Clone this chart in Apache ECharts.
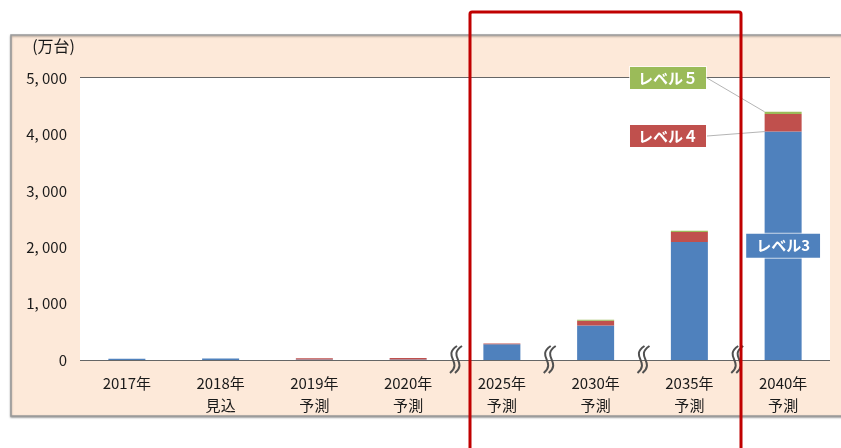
<!DOCTYPE html>
<html>
<head>
<meta charset="utf-8">
<script src="https://cdn.jsdelivr.net/npm/echarts@6/dist/echarts.min.js"></script>
<style>
html,body{margin:0;padding:0;background:#fff;}
#main{width:841px;height:448px;}
</style>
</head>
<body>
<div id="main"></div>
<script>
const categories = ['2017年', '2018年\n見込', '2019年\n予測', '2020年\n予測', '2025年\n予測', '2030年\n予測', '2035年\n予測', '2040年\n予測'];
const level3 = [20, 25, 10, 10, 280, 610, 2090, 4050];
const level4 = [0, 0, 20, 25, 12, 85, 180, 310];
const level5 = [0, 0, 0, 0, 2, 18, 22, 40];
const seriesNames = ['レベル3', 'レベル４', 'レベル５'];
const yMin = 0, yMax = 5000, yStep = 1000;
const unitLabel = '(万台)';

const FONT = '"Noto Sans CJK JP", "Noto Sans", sans-serif';
const C3 = '#4f81bd', C4 = '#c0504d', C5 = '#9bbb59';

function withLastLabel(arr, labelOpt) {
  return arr.map((v, i) => i === arr.length - 1 ? { value: v, label: labelOpt } : v);
}
const boxLabel = (bg, text) => ({
  show: true, formatter: text, color: '#fff', fontWeight: 'bold', fontSize: 15,
  fontFamily: FONT, backgroundColor: bg, padding: [4, 8, 3, 8],
  borderColor: 'rgba(255,255,255,0.7)', borderWidth: 1
});

const chart = echarts.init(document.getElementById('main'), null, { renderer: 'canvas' });
const option = {
  animation: false,
  backgroundColor: '#fff',
  grid: { left: 80, right: 11, top: 78, bottom: 88, show: true, backgroundColor: '#fff', borderWidth: 0, z: 1 },
  xAxis: {
    type: 'category', data: categories,
    axisLine: { show: false }, axisTick: { show: false },
    axisLabel: { color: '#1a1a1a', fontSize: 15, fontFamily: FONT, lineHeight: 22, margin: 12, interval: 0 }
  },
  yAxis: {
    type: 'value', min: yMin, max: yMax, interval: yStep,
    name: unitLabel, nameLocation: 'end', nameGap: 24,
    nameTextStyle: { color: '#1a1a1a', fontSize: 16, fontFamily: FONT, align: 'right', padding: [0, 5, 0, 0] },
    axisLine: { show: false }, axisTick: { show: false },
    axisLabel: {
      color: '#1a1a1a', fontSize: 15, fontFamily: FONT, margin: 13,
      formatter: v => { const s = v.toLocaleString('en-US'); return s.replace(',', ', '); }
    },
    splitLine: { lineStyle: { color: '#666666', width: 2 } }
  },
  series: [
    {
      name: seriesNames[0], type: 'bar', stack: 'a', barWidth: 37, z: 3,
      itemStyle: { color: C3 },
      data: withLastLabel(level3, Object.assign(boxLabel(C3, 'レベル3'), { position: 'inside', padding: [5, 10, 4, 10] }))
    },
    {
      name: seriesNames[1], type: 'bar', stack: 'a', barWidth: 37, z: 3,
      itemStyle: { color: C4 },
      labelLine: { show: true, lineStyle: { color: '#b5b5b5', width: 1 } },
      labelLayout: p => {
        const cx = 668, cy = 136;
        const lx = cx + p.labelRect.width / 2;
        const tx = p.rect.x, ty = p.rect.y + p.rect.height * 0.45;
        return { x: cx, y: cy, align: 'center', verticalAlign: 'middle',
          labelLinePoints: [[lx, cy], [(lx + tx) / 2, (cy + ty) / 2], [tx, ty]] };
      },
      data: withLastLabel(level4, boxLabel(C4, 'レベル４'))
    },
    {
      name: seriesNames[2], type: 'bar', stack: 'a', barWidth: 37, z: 3,
      itemStyle: { color: C5 },
      labelLine: { show: true, lineStyle: { color: '#b5b5b5', width: 1 } },
      labelLayout: p => {
        const cx = 668, cy = 78;
        const lx = cx + p.labelRect.width / 2;
        const tx = p.rect.x + p.rect.width / 2, ty = p.rect.y;
        return { x: cx, y: cy, align: 'center', verticalAlign: 'middle',
          labelLinePoints: [[lx, cy], [(lx + tx) / 2, (cy + ty) / 2], [tx, ty]] };
      },
      data: withLastLabel(level5, boxLabel(C5, 'レベル５'))
    }
  ]
};
chart.setOption(option);

// decorations: panel background, break marks, highlight frame
const graphics = [
  { type: 'rect', z: -5, silent: true,
    shape: { x: 11, y: 35, width: 845, height: 381 },
    style: { fill: '#fde9d9', stroke: '#9a9a9a', lineWidth: 1.5,
      shadowBlur: 2, shadowColor: 'rgba(0,0,0,0.35)', shadowOffsetY: 1 } }
];
const zeroY = chart.convertToPixel({ yAxisIndex: 0 }, 0);
for (let i = 3; i < categories.length - 1; i++) {
  const a = chart.convertToPixel({ xAxisIndex: 0 }, i);
  const b = chart.convertToPixel({ xAxisIndex: 0 }, i + 1);
  const cx = (a + b) / 2 - 5;
  [0, 5].forEach(off => {
    graphics.push({ type: 'bezierCurve', z: 50, silent: true,
      shape: { x1: cx + off + 7, y1: zeroY - 14, cpx1: cx + off - 8, cpy1: zeroY - 4,
               cpx2: cx + off + 13, cpy2: zeroY + 2, x2: cx + off, y2: zeroY + 13 },
      style: { stroke: '#505050', lineWidth: 2, fill: null } });
  });
}
graphics.push({ type: 'rect', z: 100, silent: true,
  shape: { x: 470, y: 12, width: 271, height: 460, r: 2 },
  style: { fill: null, stroke: '#c00000', lineWidth: 3 } });
chart.setOption({ graphic: graphics });
</script>
</body>
</html>
